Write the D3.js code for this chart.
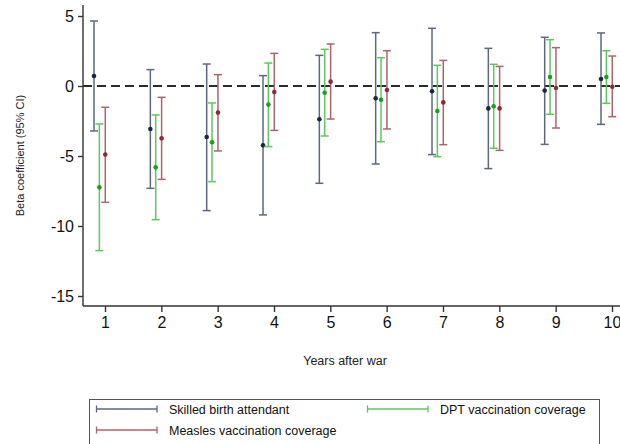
<!DOCTYPE html>
<html>
<head>
<meta charset="utf-8">
<script src="https://cdn.jsdelivr.net/npm/d3@7/dist/d3.min.js"></script>
<style>
  body { margin: 0; background: #fff; }
  svg { display: block; font-family: "Liberation Sans", Arial, sans-serif; }
</style>
</head>
<body>
<svg id="chart" width="620" height="444"></svg>
<script>
// years after war
var years = [1, 2, 3, 4, 5, 6, 7, 8, 9, 10];

// skilled birth attendant: estimate, lower, upper
var sbaEst = [0.71, -3.07, -3.64, -4.24, -2.38, -0.88, -0.38, -1.60, -0.33, 0.50];
var sbaLo  = [-3.21, -7.31, -8.90, -9.21, -6.95, -5.57, -4.90, -5.90, -4.17, -2.74];
var sbaHi  = [4.64, 1.17, 1.57, 0.74, 2.19, 3.81, 4.12, 2.69, 3.48, 3.79];

// DPT vaccination coverage
var dptEst = [-7.24, -5.81, -4.02, -1.33, -0.48, -0.98, -1.79, -1.45, 0.64, 0.64];
var dptLo  = [-11.76, -9.55, -6.83, -4.33, -3.57, -3.98, -5.05, -4.45, -2.02, -1.24];
var dptHi  = [-2.71, -2.07, -1.21, 1.64, 2.62, 2.02, 1.48, 1.55, 3.31, 2.52];

// measles vaccination coverage
var mslEst = [-4.90, -3.74, -1.90, -0.43, 0.31, -0.29, -1.17, -1.60, -0.14, -0.05];
var mslLo  = [-8.31, -6.67, -4.64, -3.17, -2.36, -3.07, -4.19, -4.60, -3.00, -2.19];
var mslHi  = [-1.52, -0.81, 0.81, 2.33, 3.00, 2.52, 1.83, 1.40, 2.74, 2.14];

var yTicks = [5, 0, -5, -10, -15];

var series = [
  {name: "Skilled birth attendant", est: sbaEst, lo: sbaLo, hi: sbaHi, shift: -0.195, line: "#5d6783", dot: "#1b2547"},
  {name: "DPT vaccination coverage", est: dptEst, lo: dptLo, hi: dptHi, shift: -0.1, line: "#5cc85c", dot: "#17a317"},
  {name: "Measles vaccination coverage", est: mslEst, lo: mslLo, hi: mslHi, shift: 0.005, line: "#b0626b", dot: "#8a2b36"}
];

var svg = d3.select("#chart");
var axisLeft = 83, axisBottom = 306, axisTop = 5;

var x = d3.scaleLinear().domain([1, 10]).range([105, 612]);
var y = d3.scaleLinear().domain([-15, 5]).range([296, 16]);

// zero reference line
svg.append("line")
  .attr("x1", axisLeft).attr("x2", 620)
  .attr("y1", y(0)).attr("y2", y(0))
  .attr("stroke", "#2b2b2b").attr("stroke-width", 2)
  .attr("stroke-dasharray", "9,5");

// y axis
var yAxis = svg.append("g").attr("transform", "translate(" + axisLeft + ",0)")
  .call(d3.axisLeft(y).tickValues(yTicks).tickSize(5).tickPadding(4).tickFormat(d3.format("d")));
yAxis.select(".domain").attr("d", "M0," + axisTop + "V" + axisBottom);
yAxis.selectAll("line, path").attr("stroke", "#333").attr("stroke-width", 1.4);
yAxis.selectAll("text").attr("font-size", 16).attr("fill", "#111").text(function (d) { return d < 0 ? "-" + Math.abs(d) : d; });

// x axis
var xAxis = svg.append("g").attr("transform", "translate(0," + axisBottom + ")")
  .call(d3.axisBottom(x).tickValues(years).tickSize(6).tickPadding(5).tickFormat(d3.format("d")));
xAxis.select(".domain").attr("d", "M" + axisLeft + ",0H620");
xAxis.selectAll("line, path").attr("stroke", "#333").attr("stroke-width", 1.4);
xAxis.selectAll("text").attr("font-size", 16).attr("fill", "#111");

// axis titles
svg.append("text")
  .attr("transform", "translate(24," + ((axisTop + axisBottom) / 2) + ") rotate(-90)")
  .attr("text-anchor", "middle").attr("font-size", 11).attr("fill", "#222")
  .text("Beta coefficient (95% CI)");

svg.append("text")
  .attr("x", 345).attr("y", 365)
  .attr("text-anchor", "middle").attr("font-size", 12.5).attr("fill", "#222")
  .text("Years after war");

// error bars
var cap = 4;
series.forEach(function (s) {
  var g = svg.append("g");
  var rows = years.map(function (yr, i) {
    return {xv: yr + s.shift, est: s.est[i], lo: s.lo[i], hi: s.hi[i]};
  });
  g.selectAll(".bar").data(rows).enter().append("line")
    .attr("x1", function (d) { return x(d.xv); }).attr("x2", function (d) { return x(d.xv); })
    .attr("y1", function (d) { return y(d.lo); }).attr("y2", function (d) { return y(d.hi); })
    .attr("stroke", s.line).attr("stroke-width", 1.5);
  ["lo", "hi"].forEach(function (k) {
    g.selectAll(".cap-" + k).data(rows).enter().append("line")
      .attr("x1", function (d) { return x(d.xv) - cap; }).attr("x2", function (d) { return x(d.xv) + cap; })
      .attr("y1", function (d) { return y(d[k]); }).attr("y2", function (d) { return y(d[k]); })
      .attr("stroke", s.line).attr("stroke-width", 1.5);
  });
  g.selectAll(".dot").data(rows).enter().append("circle")
    .attr("cx", function (d) { return x(d.xv); }).attr("cy", function (d) { return y(d.est); })
    .attr("r", 2.3).attr("fill", s.dot);
});

// legend
var legend = svg.append("g");
legend.append("rect")
  .attr("x", 89.5).attr("y", 399.5).attr("width", 510).attr("height", 60)
  .attr("fill", "none").attr("stroke", "#555").attr("stroke-width", 1);

var legendPos = [
  {x: 96, y: 409}, {x: 367, y: 409}, {x: 96, y: 430}
];
series.forEach(function (s, i) {
  var p = legendPos[i];
  var item = legend.append("g").attr("transform", "translate(" + p.x + "," + p.y + ")");
  item.append("line").attr("x1", 0).attr("x2", 61).attr("y1", 0).attr("y2", 0)
    .attr("stroke", s.line).attr("stroke-width", 1.3);
  item.append("line").attr("x1", 0.5).attr("x2", 0.5).attr("y1", -3.5).attr("y2", 3.5)
    .attr("stroke", s.line).attr("stroke-width", 1.3);
  item.append("line").attr("x1", 61).attr("x2", 61).attr("y1", -3.5).attr("y2", 3.5)
    .attr("stroke", s.line).attr("stroke-width", 1.3);
  item.append("text").attr("x", 73).attr("y", 4.5).attr("font-size", 12.5).attr("fill", "#111")
    .text(s.name);
});
</script>
</body>
</html>
